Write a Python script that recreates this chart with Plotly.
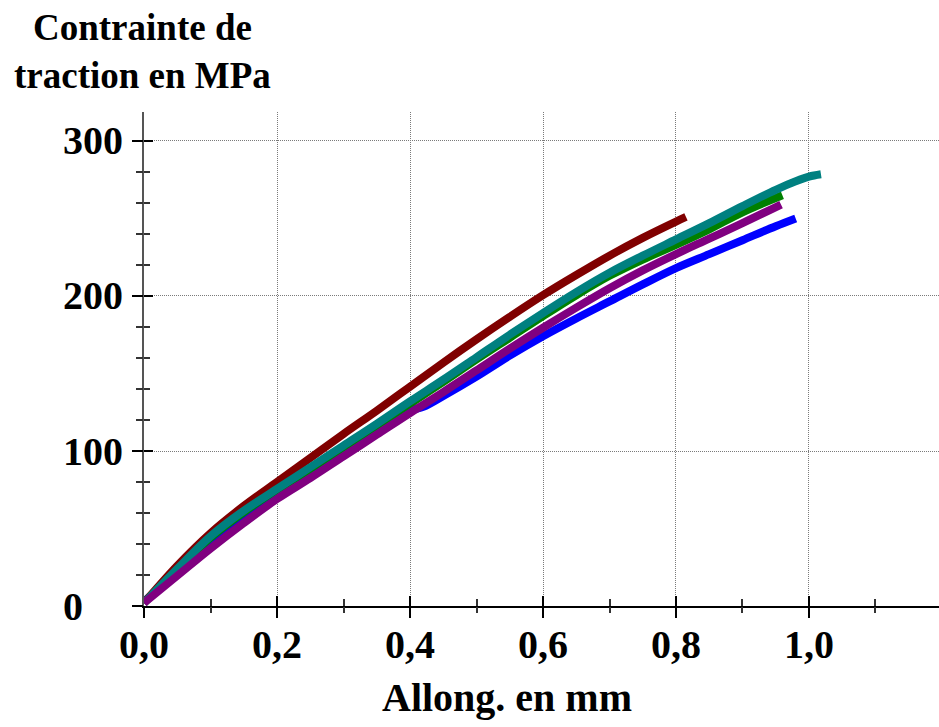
import plotly.graph_objects as go

# Tensile test curves: stress (MPa) versus elongation (mm)
x_blue = [0, 0.05, 0.1, 0.15, 0.2, 0.25, 0.3, 0.35, 0.4, 0.42, 0.45, 0.5, 0.55, 0.6, 0.65, 0.7, 0.75, 0.8, 0.85, 0.9, 0.95, 0.98]
y_blue = [3, 21, 39, 55.5, 70.5, 84, 98, 112, 126, 128.5, 135.5, 148, 161.5, 174, 185.5, 196.5, 207.5, 218, 227, 236, 245, 250]

x_green = [0, 0.05, 0.1, 0.15, 0.2, 0.25, 0.3, 0.35, 0.4, 0.45, 0.5, 0.55, 0.6, 0.65, 0.7, 0.75, 0.8, 0.85, 0.9, 0.96]
y_green = [2, 23.5, 44, 60.5, 75, 88.5, 102.5, 116.5, 130.5, 144.5, 159, 173, 187, 200.5, 213, 223.5, 233, 243, 254, 265]

x_red = [0, 0.05, 0.1, 0.15, 0.2, 0.25, 0.3, 0.35, 0.4, 0.45, 0.5, 0.55, 0.6, 0.65, 0.7, 0.75, 0.8, 0.815]
y_red = [2, 26, 47, 64.5, 80, 95.5, 111, 126, 141.5, 157, 172, 186.5, 200.5, 213.5, 226, 237.5, 248, 251]

x_teal = [0, 0.05, 0.1, 0.15, 0.2, 0.25, 0.3, 0.35, 0.4, 0.45, 0.5, 0.55, 0.6, 0.65, 0.7, 0.75, 0.8, 0.85, 0.9, 0.95, 0.98, 1.0, 1.018]
y_teal = [2, 24, 45, 61.5, 75.5, 89.5, 103.5, 117.5, 132, 146, 160.5, 175, 189, 202.5, 215, 226, 236.5, 247, 258, 268.5, 274, 277, 278.5]

x_purple = [0, 0.05, 0.1, 0.15, 0.2, 0.25, 0.3, 0.35, 0.4, 0.45, 0.5, 0.55, 0.6, 0.65, 0.7, 0.75, 0.8, 0.85, 0.9, 0.958]
y_purple = [2, 19.5, 37, 53.5, 69, 82.5, 96.5, 110.5, 124.5, 138, 152, 166, 179.5, 192.5, 205, 216.5, 227, 237, 247, 259]

Y_TICKS = [0, 100, 200, 300]
X_TITLE = "Allong. en mm"
Y_TITLE = "Contrainte de<br>traction en MPa"

X_MAX = 1.1955
Y_MAX = 318.7

FONT = "Liberation Serif"
tick_font = dict(family=FONT, size=40, color="black", weight="bold")

series = [
    (x_blue, y_blue, "#0000ff"),
    (x_green, y_green, "#008000"),
    (x_red, y_red, "#800000"),
    (x_teal, y_teal, "#008080"),
    (x_purple, y_purple, "#800080"),
]

fig = go.Figure()
for xs, ys, color in series:
    fig.add_trace(go.Scatter(
        x=xs, y=ys, mode="lines",
        line=dict(color=color, width=8, shape="spline", smoothing=1),
        showlegend=False, hoverinfo="skip",
    ))

# empty trace that carries the overlay axes (outer half of the crossing ticks)
fig.add_trace(go.Scatter(x=[None], y=[None], xaxis="x2", yaxis="y2",
                         showlegend=False, hoverinfo="skip"))

grid = dict(showgrid=True, gridcolor="#7a7a7a", gridwidth=1, griddash="1px,1px")

fig.update_layout(
    width=939, height=727,
    margin=dict(l=144, r=0, t=112, b=121),
    paper_bgcolor="white", plot_bgcolor="white",
    separators=", ",
    xaxis=dict(
        range=[0, X_MAX], tick0=0, dtick=0.2, tickformat=".1f",
        ticks="inside", ticklen=10, tickwidth=1.5, tickcolor="black",
        tickfont=tick_font, ticklabelstandoff=2,
        showline=True, linecolor="black", linewidth=2,
        zeroline=False, **grid,
        minor=dict(tick0=0, dtick=0.1, ticks="inside", ticklen=7,
                   tickwidth=1.5, tickcolor="#333333", showgrid=False),
    ),
    yaxis=dict(
        range=[0, Y_MAX], tick0=0, dtick=100, showticklabels=False,
        ticks="inside", ticklen=9, tickwidth=1.5, tickcolor="black",
        showline=True, linecolor="#555555", linewidth=2,
        zeroline=False, **grid,
        minor=dict(tick0=0, dtick=20, ticks="inside", ticklen=6,
                   tickwidth=1.5, tickcolor="#333333", showgrid=False),
    ),
    xaxis2=dict(
        overlaying="x", anchor="y2", side="bottom",
        range=[0, X_MAX], tick0=0, dtick=0.2, showticklabels=False,
        ticks="outside", ticklen=11, tickwidth=1.5, tickcolor="black",
        showgrid=False, showline=False, zeroline=False,
        minor=dict(tick0=0, dtick=0.1, ticks="outside", ticklen=6,
                   tickwidth=1.5, tickcolor="#333333", showgrid=False),
    ),
    yaxis2=dict(
        overlaying="y", anchor="x2", side="left",
        range=[0, Y_MAX], tick0=0, dtick=100, showticklabels=False,
        ticks="outside", ticklen=11, tickwidth=1.5, tickcolor="black",
        showgrid=False, showline=False, zeroline=False,
        minor=dict(tick0=0, dtick=20, ticks="outside", ticklen=7,
                   tickwidth=1.5, tickcolor="#333333", showgrid=False),
    ),
)

annotations = []
for v in Y_TICKS:
    annotations.append(dict(
        text=str(v), x=-0.105, xref="paper", xanchor="left",
        y=v, yref="y", yanchor="middle", showarrow=False,
        font=tick_font,
    ))

annotations.append(dict(
    text=X_TITLE, x=(507 - 144) / 795, xref="paper", xanchor="center",
    y=-0.185, yref="paper", yanchor="middle", showarrow=False,
    font=dict(family=FONT, size=40, color="black", weight="bold"),
))
annotations.append(dict(
    text=Y_TITLE, x=-0.0025, xref="paper", xanchor="center",
    y=1.123, yref="paper", yanchor="middle", showarrow=False, align="center",
    font=dict(family=FONT, size=37, color="black", weight="bold"),
))
fig.update_layout(annotations=annotations)

fig.write_html("out.html")
